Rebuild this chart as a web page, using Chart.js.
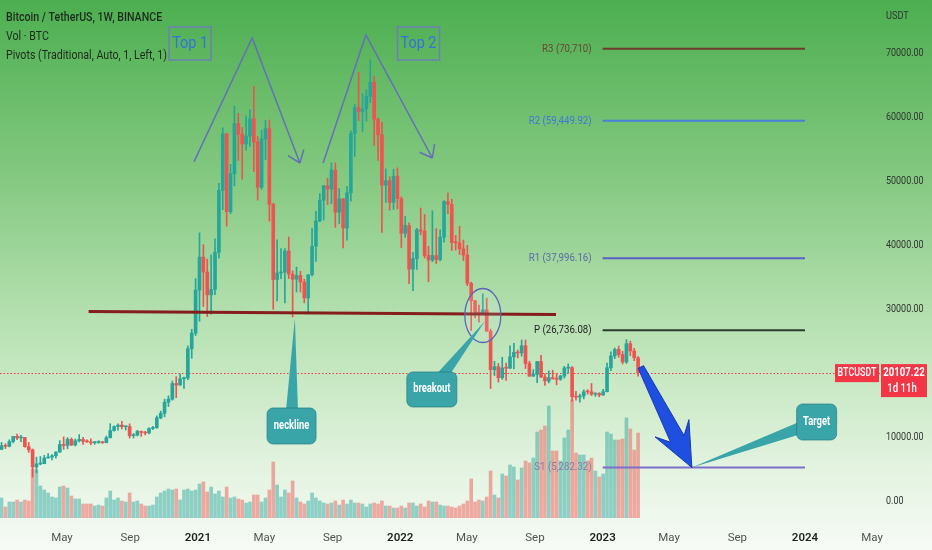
<!DOCTYPE html>
<html>
<head>
<meta charset="utf-8">
<title>BTCUSDT 1W</title>
<script src="https://cdn.jsdelivr.net/npm/chart.js@4.4.0/dist/chart.umd.min.js"></script>
<style>
    html, body { margin: 0; padding: 0; background: #f6fbf5; }
    #wrap { position: relative; width: 932px; height: 550px; }
</style>
</head>
<body>
<div id="wrap"><canvas id="btcChart"></canvas></div>
<script>
// --- DATA (weekly candles, Binance BTCUSDT) ---
const firstWeek = '2020-01-13';
const firstOpen = 8110;

const closes = [
    8690, 8590, 9330, 10150, 9900, 9970, 8530, 8030, 5360, 5830,
    5880, 6770, 6910, 7120, 7700, 8890, 8720, 9680, 8790, 9450,
    9670, 9380, 9290, 9140, 9180, 9250, 9160, 9930, 11050, 11680,
    11900, 11650, 11680, 10250, 10330, 10920, 10770, 10670, 11380, 11500,
    13030, 13740, 15480, 15960, 18400, 18180, 19150, 19270, 23830, 26280,
    33000, 38150, 35830, 32260, 33100, 38900, 48580, 57410, 45240, 51200,
    59020, 57350, 55830, 57060, 59770, 56150, 49070, 56620, 58240, 46420,
    34650, 35680, 35800, 39100, 35500, 34700, 35290, 34260, 31780, 35400,
    39850, 43800, 47050, 49320, 48800, 51750, 45170, 47260, 42700, 48200,
    57480, 61530, 60860, 61300, 63270, 65470, 59700, 57270, 49400, 50100,
    46700, 50800, 47300, 41870, 43080, 36280, 37920, 42410, 42200, 38420,
    37700, 38410, 37780, 41260, 46820, 46400, 40430, 40380, 39450, 38470,
    34060, 31330, 29430, 29400, 29920, 26580, 20560, 21030, 19300, 20840,
    20790, 22580, 23290, 23170, 24300, 21520, 19550, 19830, 21830, 19420,
    18800, 19310, 19130, 19070, 19570, 20810, 20900, 16330, 16280, 16460,
    17110, 17100, 16740, 16840, 16610, 17130, 20870, 22710, 23740, 22940,
    21780, 24630, 23490, 22430, 20107.22
];
const highs = [
    9195, 9000, 9600, 10160, 10500, 10300, 9990, 9190, 8180, 6900,
    7000, 7200, 7470, 7300, 7740, 9480, 10070, 9950, 9900, 9740,
    10430, 9990, 9600, 9770, 9370, 9480, 9380, 10200, 12120, 11800,
    12100, 12490, 11750, 12100, 10600, 11100, 10990, 10950, 11490, 11720,
    13350, 14100, 15960, 16480, 18800, 19480, 19920, 19420, 24300, 26870,
    34800, 41950, 40100, 37850, 38530, 41000, 49700, 58350, 57530, 52640,
    61780, 60630, 58400, 60200, 61200, 64850, 57000, 58000, 59500, 59600,
    46550, 40850, 39500, 39500, 41300, 36000, 36600, 35950, 34700, 35400,
    42600, 45300, 48100, 49380, 50500, 52900, 52900, 48850, 47350, 49200,
    57900, 62000, 67000, 63700, 64300, 69000, 66400, 59900, 59200, 51950,
    50700, 51900, 52100, 47570, 44500, 43500, 38900, 42650, 45820, 44800,
    39850, 45400, 42600, 42400, 47000, 48190, 47200, 41560, 42980, 40800,
    40000, 34250, 31400, 30650, 32400, 31750, 26900, 21870, 21540, 22500,
    21600, 24280, 24670, 23650, 25200, 25200, 21900, 20580, 21860, 22800,
    19960, 20380, 20480, 19950, 19700, 21090, 21480, 21050, 17190, 16770,
    17420, 17430, 18400, 16960, 16970, 17490, 21600, 23370, 23950, 24250,
    23450, 25250, 25020, 23900, 22600
];
const lows = [
    8050, 8250, 8500, 9130, 9620, 9300, 8450, 7630, 3780, 4440,
    5690, 5860, 6750, 6460, 6750, 7630, 8120, 8200, 8700, 8630,
    9260, 8900, 9200, 8830, 8900, 9050, 9040, 9120, 9900, 10950,
    11120, 11300, 11140, 9880, 9880, 10200, 10140, 10370, 10530, 11200,
    11400, 12900, 13200, 14800, 15800, 16190, 18100, 17650, 19000, 22350,
    25900, 28130, 30420, 28850, 29240, 32300, 37990, 45570, 43000, 44950,
    49270, 53270, 50310, 54870, 55470, 51540, 47050, 48750, 53400, 43800,
    30000, 31300, 34800, 31000, 34800, 28800, 32700, 32700, 31000, 29280,
    35200, 37500, 43700, 43950, 46370, 46500, 42800, 43400, 39600, 40800,
    46900, 53900, 59500, 57800, 59400, 62300, 55600, 53250, 42000, 46700,
    45500, 45600, 45700, 39650, 41250, 34000, 32900, 36250, 41650, 38000,
    34320, 37450, 37150, 37550, 40470, 44950, 39200, 39250, 38550, 37600,
    33700, 26700, 28650, 28000, 29300, 26560, 17620, 19650, 18630, 19050,
    18900, 20750, 20700, 22400, 22660, 20760, 19520, 19520, 18540, 19320,
    18120, 18500, 19100, 18200, 18900, 19250, 20050, 15590, 15800, 15480,
    16000, 16750, 16520, 16400, 16330, 16550, 17100, 20400, 22300, 22500,
    21450, 21530, 22750, 21970, 19550
];
// thousand BTC per week
const volumes = [
    400, 220, 320, 320, 360, 320, 360, 340, 980, 960,
    640, 560, 500, 420, 400, 620, 640, 600, 440, 380,
    380, 280, 280, 280, 240, 260, 240, 400, 540, 360,
    400, 340, 320, 500, 320, 340, 280, 240, 240, 260,
    420, 500, 540, 580, 560, 580, 360, 560, 580, 540,
    560, 680, 720, 520, 620, 480, 540, 420, 620, 400,
    420, 380, 360, 300, 320, 460, 460, 320, 400, 560,
    1120, 660, 420, 560, 500, 740, 400, 320, 280, 340,
    500, 400, 340, 300, 280, 300, 340, 260, 360, 280,
    360, 300, 300, 280, 220, 280, 300, 280, 340, 240,
    240, 200, 200, 240, 200, 300, 300, 240, 280, 220,
    340, 320, 320, 260, 240, 240, 220, 200, 240, 280,
    340, 780, 320, 360, 340, 420, 940, 460, 400, 880,
    840, 1060, 1020, 760, 1000, 1140, 1100, 1200, 1720, 1760,
    1840, 2240, 1340, 1340, 1140, 1600, 1760, 2360, 1300, 1260,
    1260, 1140, 1200, 940, 820, 880, 1720, 1680, 1560, 1560,
    1580, 2000, 1780, 1360, 1700
];

const monthTicks = ['2020-05-01', '2020-09-01', '2021-01-01', '2021-05-01', '2021-09-01', '2022-01-01',
    '2022-05-01', '2022-09-01', '2023-01-01', '2023-05-01', '2023-09-01', '2024-01-01', '2024-05-01'];
const monthLabels = ['May', 'Sep', '2021', 'May', 'Sep', '2022', 'May', 'Sep', '2023', 'May', 'Sep', '2024', 'May'];
const priceTicks = [0, 10000, 20000, 30000, 40000, 50000, 60000, 70000];

const pivotValues = [70710, 59449.92, 37996.16, 26736.08, 5282.32];
const pivotLabels = ['R3 (70,710)', 'R2 (59,449.92)', 'R1 (37,996.16)', 'P (26,736.08)', 'S1 (5,282.32)'];
const pivotFrom = '2023-01-01';
const pivotTo = '2024-01-01';
const lastPrice = 20107.22;

// drawings, in [date, price]
const neckline = [['2020-06-18', 29656], ['2022-10-09', 29187]];
const topOneLines = [['2020-12-25', 53030], ['2021-04-09', 72390], ['2021-07-04', 52860]];
const topTwoLines = [['2021-08-15', 52860], ['2021-10-31', 72860], ['2022-02-28', 53640]];
const topBoxes = [['Top 1', '2020-12-18', 71530], ['Top 2', '2022-02-03', 71530]];
const breakoutCircle = ['2022-05-30', 29031];
const callouts = [
    ['neckline', '2021-06-19', 11766, '2021-06-25', 28640],
    ['breakout', '2022-02-27', 17470, '2022-06-03', 28172],
    ['Target', '2024-01-22', 12390, '2023-06-11', 5282]
];
const targetArrow = [['2023-03-11', 20984], ['2023-06-11', 5282]];

// --- STYLE ---
const FONT = "Roboto, 'Noto Sans', sans-serif";
const UP = '#26a69a', DOWN = '#ef5350';
const UP_VOL = 'rgba(38,166,154,0.48)', DOWN_VOL = 'rgba(239,83,80,0.48)';
const pivotColors = ['#6e3b2c', '#4a7fdc', '#5a5fc4', '#2f3a2f', '#7f6fcc'];
const pivotTextColors = ['#6b4636', '#3f78d6', '#5b6aa6', '#222', '#8a7aa3'];

const dayOf = s => {
    const [y, m, d] = s.split('-').map(Number);
    return (Date.UTC(y, m - 1, d) - Date.UTC(2020, 0, 1)) / 864e5;
};

const x0 = dayOf(firstWeek);
const opens = closes.map((c, i) => i === 0 ? firstOpen : closes[i - 1]);
const isUp = closes.map((c, i) => c >= opens[i]);
const weekX = closes.map((c, i) => x0 + 7 * i);
const candleColors = isUp.map(u => u ? UP : DOWN);

const pt = p => ({ x: dayOf(p[0]), y: p[1] });
const lineSet = (pts, color, width, order) => ({
    type: 'line', data: pts.map(pt), borderColor: color, borderWidth: width,
    pointRadius: 0, fill: false, tension: 0, order: order, yAxisID: 'y'
});

const datasets = [
    {
        type: 'bar', yAxisID: 'yv', order: 6, grouped: false, barThickness: 3,
        data: weekX.map((x, i) => ({ x: x, y: volumes[i] })),
        backgroundColor: isUp.map(u => u ? UP_VOL : DOWN_VOL)
    },
    {
        type: 'bar', yAxisID: 'y', order: 5, grouped: false, barThickness: 1,
        data: weekX.map((x, i) => ({ x: x, y: [lows[i], highs[i]] })),
        backgroundColor: candleColors
    },
    {
        type: 'bar', yAxisID: 'y', order: 4, grouped: false, barThickness: 3, minBarLength: 1,
        data: weekX.map((x, i) => ({ x: x, y: [opens[i], closes[i]] })),
        backgroundColor: candleColors
    },
    lineSet(neckline, '#861d1d', 3, 1),
    lineSet(topOneLines, '#6570b8', 1.5, 1),
    lineSet(topTwoLines, '#6570b8', 1.5, 1)
];
pivotValues.forEach((v, i) => {
    datasets.push(lineSet([[pivotFrom, v], [pivotTo, v]], pivotColors[i], 2, 2));
});

// --- DRAWING HELPERS ---
function roundRect(ctx, x, y, w, h, r) {
    ctx.beginPath();
    ctx.moveTo(x + r, y);
    ctx.arcTo(x + w, y, x + w, y + h, r);
    ctx.arcTo(x + w, y + h, x, y + h, r);
    ctx.arcTo(x, y + h, x, y, r);
    ctx.arcTo(x, y, x + w, y, r);
    ctx.closePath();
}

// TradingView text is narrow: squeeze Roboto horizontally
function narrowText(ctx, txt, x, y, sx) {
    ctx.save();
    ctx.translate(x, y);
    ctx.scale(sx, 1);
    ctx.fillText(txt, 0, 0);
    ctx.restore();
}

const decor = {
    id: 'tvDecor',
    beforeDraw(chart) {
        const { ctx, width, height } = chart;
        const g = ctx.createLinearGradient(0, 0, 0, height);
        g.addColorStop(0, '#4cae50');
        g.addColorStop(0.3, '#80c77d');
        g.addColorStop(0.6, '#b9e2b4');
        g.addColorStop(0.85, '#e3f3e0');
        g.addColorStop(1, '#f7fbf6');
        ctx.save();
        ctx.fillStyle = g;
        ctx.fillRect(0, 0, width, height);
        ctx.restore();
    },
    beforeDatasetsDraw(chart) {
        const { ctx, chartArea } = chart;
        const y = Math.round(chart.scales.y.getPixelForValue(lastPrice)) + 0.5;
        ctx.save();
        ctx.strokeStyle = '#f23645';
        ctx.lineWidth = 1;
        ctx.setLineDash([1.5, 2]);
        ctx.beginPath();
        ctx.moveTo(chartArea.left, y);
        ctx.lineTo(chartArea.right, y);
        ctx.stroke();
        ctx.restore();
    },
    afterDatasetsDraw(chart) {
        const { ctx } = chart;
        const xs = chart.scales.x, ys = chart.scales.y;
        const P = (d, v) => [xs.getPixelForValue(dayOf(d)), ys.getPixelForValue(v)];
        ctx.save();

        // arrow heads on the two tops
        [topOneLines, topTwoLines].forEach(line => {
            const [ax, ay] = P(line[1][0], line[1][1]);
            const [tx, ty] = P(line[2][0], line[2][1]);
            const ang = Math.atan2(ty - ay, tx - ax);
            ctx.strokeStyle = '#6570b8';
            ctx.lineWidth = 1.5;
            ctx.beginPath();
            [-0.65, 0.65].forEach(a => {
                ctx.moveTo(tx, ty);
                ctx.lineTo(tx - 14 * Math.cos(ang + a), ty - 14 * Math.sin(ang + a));
            });
            ctx.stroke();
        });

        // Top 1 / Top 2 boxes
        topBoxes.forEach(([txt, d, v]) => {
            const [cx, cy] = P(d, v);
            ctx.strokeStyle = '#6d80b4';
            ctx.lineWidth = 1.5;
            ctx.strokeRect(cx - 21, cy - 16.5, 42, 33);
            ctx.fillStyle = '#3470de';
            ctx.font = '16px ' + FONT;
            ctx.textAlign = 'center';
            ctx.textBaseline = 'middle';
            narrowText(ctx, txt, cx, cy, 0.9);
        });

        // breakout circle
        const [ex, ey] = P(breakoutCircle[0], breakoutCircle[1]);
        ctx.beginPath();
        ctx.ellipse(ex, ey, 18, 27, 0, 0, Math.PI * 2);
        ctx.fillStyle = 'rgba(230,245,255,0.12)';
        ctx.fill();
        ctx.strokeStyle = '#5866b8';
        ctx.lineWidth = 1.3;
        ctx.stroke();

        // big blue target arrow
        const [sx, sy] = P(targetArrow[0][0], targetArrow[0][1]);
        const [tx, ty] = P(targetArrow[1][0], targetArrow[1][1]);
        const len = Math.hypot(tx - sx, ty - sy);
        const ux = (tx - sx) / len, uy = (ty - sy) / len;
        const px = -uy, py = ux;
        const at = (along, side) => [tx - ux * along + px * side, ty - uy * along + py * side];
        const shape = [
            [sx + px * 3, sy + py * 3], at(32, 7.5), at(44, 19), [tx, ty], at(44, -19), at(32, -7.5),
            [sx - px * 3, sy - py * 3]
        ];
        ctx.beginPath();
        shape.forEach(([a, b], i) => i ? ctx.lineTo(a, b) : ctx.moveTo(a, b));
        ctx.closePath();
        ctx.fillStyle = '#1f4fe0';
        ctx.fill();
        ctx.strokeStyle = '#1838b0';
        ctx.lineWidth = 1;
        ctx.stroke();

        // callouts
        callouts.forEach(([txt, bd, bv, td, tv]) => {
            const [bx, by] = P(bd, bv);
            const [cx, cy] = P(td, tv);
            const w = txt === 'Target' ? 40 : (txt === 'neckline' ? 49 : 50);
            const h = txt === 'breakout' ? 35 : 36;
            const l = Math.hypot(cx - bx, cy - by);
            const nx = -(cy - by) / l * 7, ny = (cx - bx) / l * 7;
            ctx.fillStyle = '#3aa5a8';
            ctx.strokeStyle = 'rgba(35,125,128,0.7)';
            ctx.lineWidth = 1;
            ctx.beginPath();
            ctx.moveTo(bx + nx, by + ny);
            ctx.lineTo(cx, cy);
            ctx.lineTo(bx - nx, by - ny);
            ctx.closePath();
            ctx.fill();
            roundRect(ctx, bx - w / 2, by - h / 2, w, h, 6);
            ctx.fill();
            ctx.stroke();
            ctx.fillStyle = '#ffffff';
            ctx.font = 'bold 12px ' + FONT;
            ctx.textAlign = 'center';
            ctx.textBaseline = 'middle';
            narrowText(ctx, txt, bx, by, 0.78);
        });

        // pivot labels
        ctx.font = '11.5px ' + FONT;
        ctx.textAlign = 'right';
        ctx.textBaseline = 'middle';
        pivotValues.forEach((v, i) => {
            const [lx, ly] = P(pivotFrom, v);
            ctx.fillStyle = pivotTextColors[i];
            narrowText(ctx, pivotLabels[i], lx - 11, ly, 0.84);
        });
        ctx.restore();
    },
    afterDraw(chart) {
        const { ctx, chartArea } = chart;
        const ys = chart.scales.y;
        ctx.save();
        ctx.textBaseline = 'middle';

        // legend text
        ctx.textAlign = 'left';
        ctx.fillStyle = '#1d2a1d';
        ctx.font = '500 12.5px ' + FONT;
        narrowText(ctx, 'Bitcoin / TetherUS, 1W, BINANCE', 6, 18, 0.85);
        ctx.font = '12.5px ' + FONT;
        narrowText(ctx, 'Vol · BTC', 6, 37, 0.85);
        narrowText(ctx, 'Pivots (Traditional, Auto, 1, Left, 1)', 6, 56, 0.85);

        // price axis labels
        ctx.font = '11.5px ' + FONT;
        ctx.fillStyle = '#2f352f';
        narrowText(ctx, 'USDT', chartArea.right + 6, 16, 0.8);
        priceTicks.forEach(v => {
            narrowText(ctx, v.toFixed(2), chartArea.right + 6, ys.getPixelForValue(v), 0.78);
        });

        // last price tags
        const y = ys.getPixelForValue(lastPrice);
        ctx.fillStyle = '#f23645';
        ctx.fillRect(chartArea.right - 45, y - 8.5, 44, 18);
        ctx.fillRect(chartArea.right + 1, y - 8.5, 46, 33);
        ctx.fillStyle = '#ffffff';
        ctx.textAlign = 'center';
        ctx.font = '500 12px ' + FONT;
        narrowText(ctx, 'BTCUSDT', chartArea.right - 23, y + 0.5, 0.74);
        ctx.font = 'bold 12px ' + FONT;
        narrowText(ctx, lastPrice.toFixed(2), chartArea.right + 24, y, 0.8);
        ctx.font = '500 12px ' + FONT;
        narrowText(ctx, '1d 11h', chartArea.right + 22, y + 16, 0.8);
        ctx.restore();
    }
};

new Chart(document.getElementById('btcChart'), {
    type: 'bar',
    data: { datasets: datasets },
    plugins: [decor],
    options: {
        responsive: true,
        maintainAspectRatio: false,
        animation: false,
        layout: { padding: 0 },
        plugins: { legend: { display: false }, tooltip: { enabled: false } },
        scales: {
            x: {
                type: 'linear', min: 9.2, max: 1596.3, offset: false,
                grid: { display: false }, border: { display: false },
                afterBuildTicks: s => { s.ticks = monthTicks.map(d => ({ value: dayOf(d) })); },
                afterFit: s => { s.height = 32; s.paddingLeft = 0; s.paddingRight = 0; },
                ticks: {
                    autoSkip: false, maxRotation: 0, padding: 5,
                    callback: (v, i) => monthLabels[i],
                    color: c => /^\d/.test(monthLabels[c.index]) ? '#1d221d' : '#4e554e',
                    font: c => ({ family: FONT, size: 11.5, weight: /^\d/.test(monthLabels[c.index]) ? '600' : 'normal' })
                }
            },
            y: {
                type: 'linear', position: 'right', min: -2609, max: 78328,
                grid: { display: false }, border: { display: false },
                afterBuildTicks: s => { s.ticks = priceTicks.map(v => ({ value: v })); },
                afterFit: s => { s.width = 52; s.paddingTop = 0; s.paddingBottom = 0; },
                ticks: { display: false }
            },
            yv: { type: 'linear', display: false, min: 0, max: 10360 }
        }
    }
});
</script>
</body>
</html>
